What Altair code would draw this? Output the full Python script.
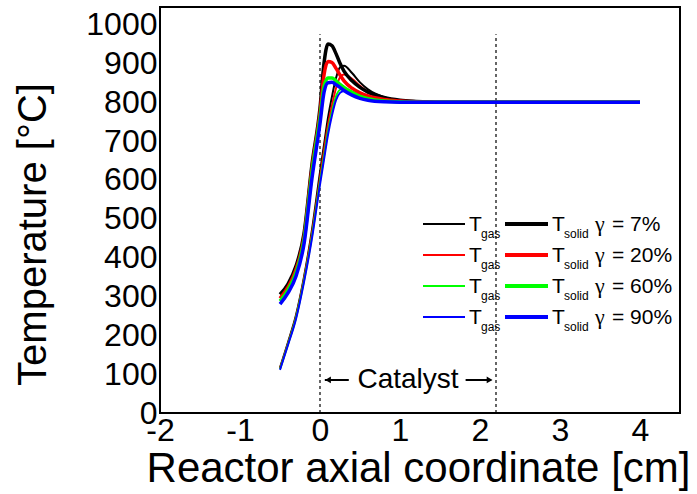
import altair as alt
import pandas as pd

# ---------------- data ----------------
x_grid = [-0.5, -0.4, -0.3, -0.2, -0.1, 0.0, 0.05, 0.1, 0.15, 0.2, 0.25, 0.3,
          0.4, 0.5, 0.6, 0.8, 1.0, 1.2, 1.5, 2.0, 3.0, 4.0]

series_names = ["γ = 7%", "γ = 20%", "γ = 60%", "γ = 90%"]
series_colors = ["#000000", "#ff0000", "#00ff00", "#0000ff"]

t_solid_7 = [305, 332, 378, 462, 640, 785, 900, 950, 945, 925, 900, 880,
             855, 838, 826, 812, 805, 802, 800, 800, 800, 800]
t_solid_20 = [295, 324, 369, 452, 630, 772, 870, 905, 902, 887, 870, 855,
              836, 824, 816, 807, 803, 801, 800, 800, 800, 800]
t_solid_60 = [288, 317, 361, 445, 620, 760, 840, 862, 862, 855, 846, 838,
              825, 815, 809, 803, 801, 800, 800, 800, 800, 800]
t_solid_90 = [280, 309, 352, 435, 605, 745, 825, 850, 851, 845, 838, 830,
              818, 810, 805, 801, 800, 800, 800, 800, 800, 800]

t_gas_7 = [117, 182, 252, 350, 472, 620, 690, 760, 815, 862, 890, 894,
           875, 851, 833, 813, 805, 802, 800, 800, 800, 800]
t_gas_20 = [115, 179, 248, 346, 464, 606, 676, 742, 792, 836, 864, 871,
            860, 842, 826, 810, 804, 801, 800, 800, 800, 800]
t_gas_60 = [113, 177, 245, 341, 456, 596, 661, 726, 776, 815, 832, 835,
            828, 818, 810, 803, 801, 800, 800, 800, 800, 800]
t_gas_90 = [111, 175, 242, 337, 450, 588, 652, 716, 766, 805, 824, 829,
            824, 815, 808, 802, 800, 800, 800, 800, 800, 800]

catalyst_bounds = [0.0, 2.2]
catalyst_top = 975
y_ticks = [0, 100, 200, 300, 400, 500, 600, 700, 800, 900, 1000]
x_ticks = [-2, -1, 0, 1, 2, 3, 4]

# ---------------- tables ----------------
solid_vals = [t_solid_7, t_solid_20, t_solid_60, t_solid_90]
gas_vals = [t_gas_7, t_gas_20, t_gas_60, t_gas_90]

rows = []
for name, sv, gv in zip(series_names, solid_vals, gas_vals):
    for i, xv in enumerate(x_grid):
        rows.append({"x": xv, "T": sv[i], "series": name, "kind": "solid"})
        rows.append({"x": xv, "T": gv[i], "series": name, "kind": "gas"})
df = pd.DataFrame(rows)

FONT = "Liberation Sans"
W, H = 520, 406
xs = alt.Scale(domain=[-2, 4.5], nice=False, zero=False)
ys = alt.Scale(domain=[0, 1045], nice=False, zero=False)
cs = alt.Scale(domain=series_names, range=series_colors)

base = alt.Chart(df)

gas_lines = base.transform_filter(alt.datum.kind == "gas").mark_line(
    strokeWidth=2, interpolate="monotone", clip=True
).encode(
    x=alt.X("x:Q", scale=xs,
            axis=alt.Axis(values=x_ticks, title="Reactor axial coordinate [cm]",
                          labelExpr="'' + datum.value",
                          labelFontSize=32, labelFont=FONT, labelColor="black",
                          labelFlush=False, labelPadding=2, ticks=False, domain=False,
                          grid=False, titleFont=FONT, titleFontSize=42,
                          titleFontWeight="normal", titleColor="black",
                          titleX=258, titleY=68, titleBaseline="alphabetic",
                          titleAlign="center")),
    y=alt.Y("T:Q", scale=ys,
            axis=alt.Axis(values=y_ticks, title="Temperature [°C]",
                          labelExpr="'' + datum.value",
                          labelFontSize=32, labelFont=FONT, labelColor="black",
                          labelOverlap=False, labelPadding=3, ticks=False,
                          domain=False, grid=False, titleFont=FONT,
                          titleFontSize=40, titleFontWeight="normal",
                          titleColor="black", titleAngle=-90, titleX=-115,
                          titleY=227, titleAlign="center",
                          titleBaseline="alphabetic")),
    color=alt.Color("series:N", scale=cs, legend=None),
    detail="series:N",
)

solid_lines = base.transform_filter(alt.datum.kind == "solid").mark_line(
    strokeWidth=3.5, interpolate="monotone", clip=True
).encode(
    x=alt.X("x:Q", scale=xs),
    y=alt.Y("T:Q", scale=ys),
    color=alt.Color("series:N", scale=cs, legend=None),
    detail="series:N",
)

# dashed catalyst boundaries
bounds_df = pd.DataFrame({"x": catalyst_bounds, "y0": [0, 0],
                          "y1": [catalyst_top, catalyst_top]})
bounds = alt.Chart(bounds_df).mark_rule(
    color="black", strokeWidth=1.2, strokeDash=[3, 3]
).encode(x=alt.X("x:Q", scale=xs), y=alt.Y("y0:Q", scale=ys), y2="y1:Q")

# Catalyst annotation
ann_text = alt.Chart(pd.DataFrame({"x": [1.1], "y": [64], "t": ["Catalyst"]})).mark_text(
    font=FONT, fontSize=28, color="black", baseline="alphabetic", align="center"
).encode(x=alt.X("x:Q", scale=xs), y=alt.Y("y:Q", scale=ys), text="t:N")

arrow_df = pd.DataFrame({"x0": [0.06, 1.82], "x1": [0.36, 2.14], "y": [85, 85]})
arrow_lines = alt.Chart(arrow_df).mark_rule(color="black", strokeWidth=2).encode(
    x=alt.X("x0:Q", scale=xs), x2="x1:Q", y=alt.Y("y:Q", scale=ys))
head_df = pd.DataFrame({"x": [0.1, 2.12], "y": [85, 85],
                        "shape": ["triangle-left", "triangle-right"]})
arrow_heads = alt.Chart(head_df).mark_point(
    filled=True, color="black", size=45, opacity=1
).encode(x=alt.X("x:Q", scale=xs), y=alt.Y("y:Q", scale=ys),
         shape=alt.Shape("shape:N", scale=None))

# ---------------- legend (pixel placed) ----------------
leg_rows = []
for i, (name, col) in enumerate(zip(series_names, series_colors)):
    leg_rows.append({"row": i, "name": name, "col": col})
leg = pd.DataFrame(leg_rows)
leg_base = alt.Chart(leg).transform_calculate(py="217 + datum.row * 31")

leg_gas = leg_base.mark_rule(strokeWidth=2).encode(
    x=alt.value(263), x2=alt.value(305), y=alt.Y("py:Q", scale=None),
    color=alt.Color("col:N", scale=None))
leg_solid = leg_base.mark_rule(strokeWidth=4).encode(
    x=alt.value(345), x2=alt.value(388), y=alt.Y("py:Q", scale=None),
    color=alt.Color("col:N", scale=None))
leg_T1 = leg_base.transform_calculate(t="'T'", py2="datum.py + 7").mark_text(
    font=FONT, fontSize=21, align="left", baseline="alphabetic", color="black"
).encode(x=alt.value(309), y=alt.Y("py2:Q", scale=None), text="t:N")
leg_gas_sub = leg_base.transform_calculate(t="'gas'", py2="datum.py + 14").mark_text(
    font=FONT, fontSize=12, align="left", baseline="alphabetic", color="black"
).encode(x=alt.value(321), y=alt.Y("py2:Q", scale=None), text="t:N")
leg_T2 = leg_base.transform_calculate(t="'T'", py2="datum.py + 7").mark_text(
    font=FONT, fontSize=21, align="left", baseline="alphabetic", color="black"
).encode(x=alt.value(392), y=alt.Y("py2:Q", scale=None), text="t:N")
leg_solid_sub = leg_base.transform_calculate(t="'solid'", py2="datum.py + 14").mark_text(
    font=FONT, fontSize=12, align="left", baseline="alphabetic", color="black"
).encode(x=alt.value(404), y=alt.Y("py2:Q", scale=None), text="t:N")
leg_gamma = leg_base.transform_calculate(t="'γ'", py2="datum.py + 7").mark_text(
    font="Liberation Serif", fontSize=22, align="left", baseline="alphabetic",
    color="black"
).encode(x=alt.value(435), y=alt.Y("py2:Q", scale=None), text="t:N")
leg_pct = leg_base.transform_calculate(
    t="replace(datum.name, 'γ ', '')", py2="datum.py + 7"
).mark_text(
    font=FONT, fontSize=21, align="left", baseline="alphabetic", color="black"
).encode(x=alt.value(452), y=alt.Y("py2:Q", scale=None), text="t:N")

chart = alt.layer(
    bounds, gas_lines, solid_lines, ann_text, arrow_lines, arrow_heads,
    leg_gas, leg_solid, leg_T1, leg_gas_sub, leg_T2, leg_solid_sub,
    leg_gamma, leg_pct,
).properties(
    width=W, height=H,
    autosize=alt.AutoSizeParams(type="none"),
    padding={"left": 160, "top": 7, "right": 17, "bottom": 81},
    background="white",
).configure_view(
    stroke="black", strokeWidth=2
)

chart.save("out.html", embed_options={"renderer": "svg", "actions": False})
